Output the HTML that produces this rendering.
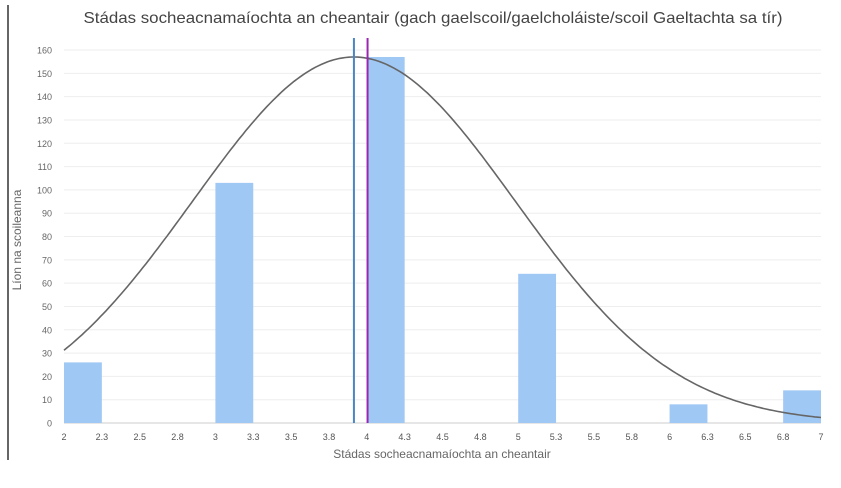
<!DOCTYPE html>
<html><head><meta charset="utf-8"><style>
html,body{margin:0;padding:0;background:#fff;}
svg{display:block;font-family:"Liberation Sans",sans-serif;}
</style></head><body>
<svg id="chart" width="841" height="488" viewBox="0 0 841 488">
<line x1="8" y1="5" x2="8" y2="460" stroke="#000" stroke-width="1.2"/>
<text x="433" y="23" text-anchor="middle" font-size="16" fill="#444" textLength="699" lengthAdjust="spacingAndGlyphs">Stádas socheacnamaíochta an cheantair (gach gaelscoil/gaelcholáiste/scoil Gaeltachta sa tír)</text>
<text transform="translate(21,240) rotate(-90)" text-anchor="middle" font-size="12" fill="#666">Líon na scoileanna</text>
<text x="442" y="458" text-anchor="middle" font-size="12" fill="#666">Stádas socheacnamaíochta an cheantair</text>
<g id="grid"></g><g id="bars"></g><g id="marks"></g><g id="axes"></g>
</svg>
<script>
const binStarts=[2,3,4,5,6,6.75];
const binCounts=[26,103,157,64,8,14];
const binWidth=0.25;
const yTicks=[0,10,20,30,40,50,60,70,80,90,100,110,120,130,140,150,160];
const xTicks=[2,2.25,2.5,2.75,3,3.25,3.5,3.75,4,4.25,4.5,4.75,5,5.25,5.5,5.75,6,6.25,6.5,6.75,7];
const xTickLabels=["2","2.3","2.5","2.8","3","3.3","3.5","3.8","4","4.3","4.5","4.8","5","5.3","5.5","5.8","6","6.3","6.5","6.8","7"];
const meanValue=3.915;
const medianValue=4.005;
const curvePeak=157;
const curveSd=1.065;
const NS="http://www.w3.org/2000/svg";
const X0=64,X1=821,Y0=423,Y1=50;
const xs=v=>X0+(v-2)/(7-2)*(X1-X0);
const ys=v=>Y0-v/160*(Y0-Y1);
function mk(tag,attrs,parent){const e=document.createElementNS(NS,tag);for(const k in attrs)e.setAttribute(k,attrs[k]);document.getElementById(parent).appendChild(e);return e;}
yTicks.forEach(t=>{
  const l=mk('line',{x1:X0,x2:X1,y1:ys(t),y2:ys(t),stroke:t===0?'#ccc':'#eee','stroke-width':1},'grid');
  
  
  const tx=mk('text',{x:X0-12,y:ys(t)+3.5,'text-anchor':'end','font-size':9,fill:'#666'},'axes');
  tx.textContent=t;
  
  
});
xTicks.forEach((t,i)=>{
  const tx=mk('text',{x:xs(t),y:Y0+17,'text-anchor':'middle','font-size':9,fill:'#555'},'axes');
  tx.textContent=xTickLabels[i];
  
  
});
binStarts.forEach((s,i)=>{
  const r=mk('rect',{x:xs(s),y:ys(binCounts[i]),width:xs(s+binWidth)-xs(s),height:Y0-ys(binCounts[i]),fill:'#9fc8f5'},'bars');
  
  
});
let d='';
for(let v=2;v<=7.0001;v+=0.02){const y=curvePeak*Math.exp(-Math.pow(v-meanValue,2)/(2*curveSd*curveSd));d+=(d?'L':'M')+xs(v).toFixed(1)+','+ys(y).toFixed(1);}
const p=mk('path',{d:d,fill:'none',stroke:'#666','stroke-width':1.6},'marks');


const ml=mk('line',{x1:xs(meanValue),x2:xs(meanValue),y1:38,y2:Y0,stroke:'#4a86c6','stroke-width':2},'marks');


const md=mk('line',{x1:xs(medianValue),x2:xs(medianValue),y1:38,y2:Y0,stroke:'#9b27b0','stroke-width':2},'marks');


</script>
</body></html>
